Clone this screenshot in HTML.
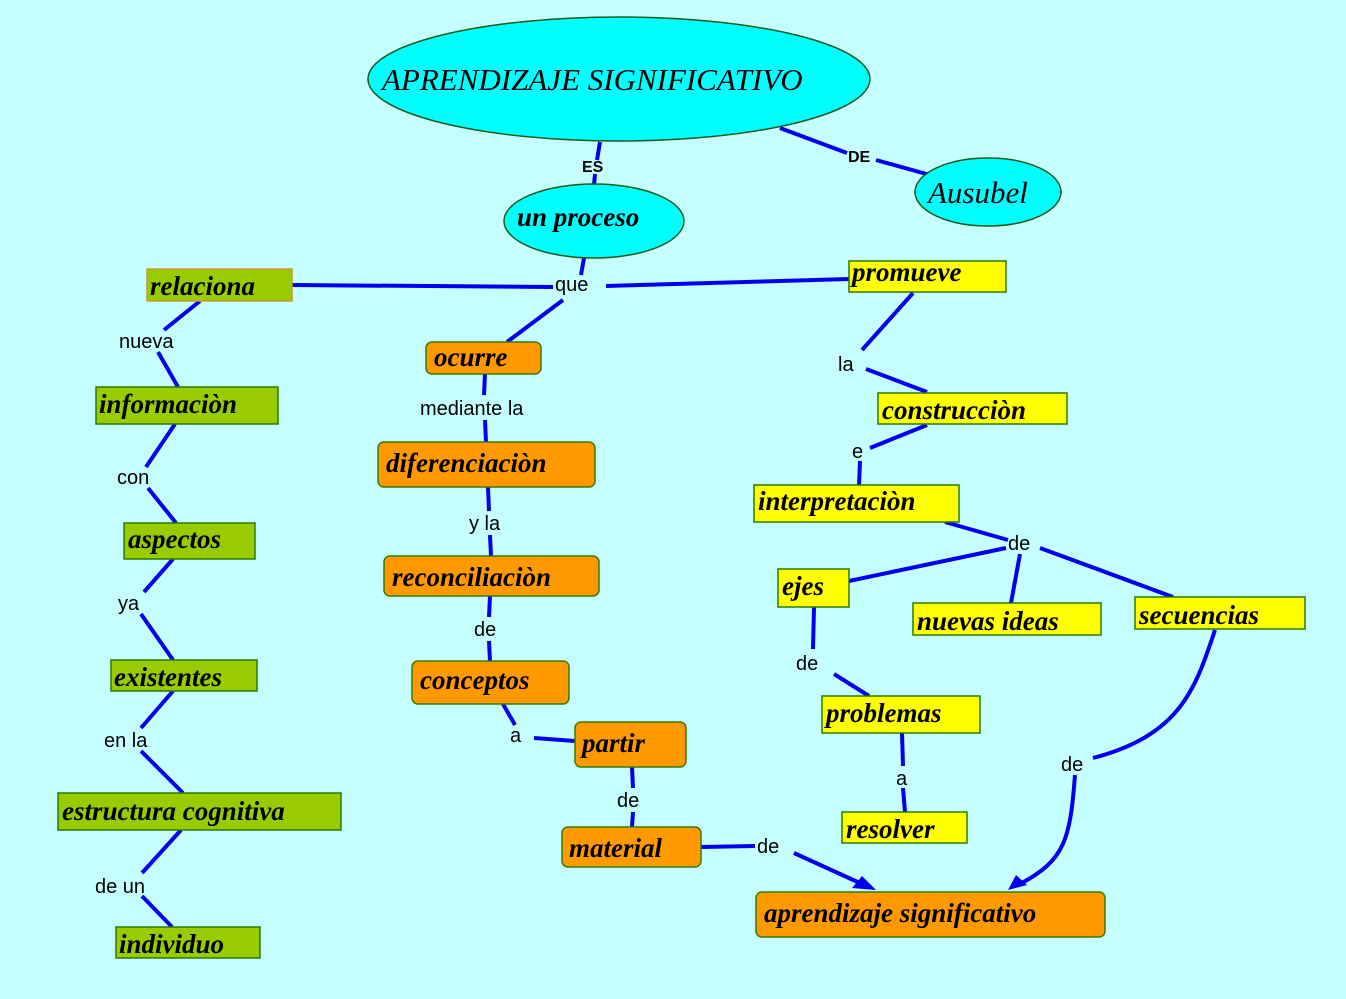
<!DOCTYPE html>
<html><head><meta charset="utf-8"><style>
html,body{margin:0;padding:0;background:#c6ffff;}
svg{display:block}
.n{font-family:"Liberation Serif",serif;font-weight:bold;font-style:italic;font-size:27px;fill:#000}
.l{font-family:"Liberation Sans",sans-serif;font-size:20px;fill:#000}
.ln{stroke:#0000ee;stroke-width:4;fill:none}
.g{fill:#99cc00;stroke:#2a7a00;stroke-width:1.5}
.o{fill:#ff9900;stroke:#3a7a00;stroke-width:1.5}
.y{fill:#ffff00;stroke:#2a7a00;stroke-width:1.5}
.e{fill:#00ffff;stroke:#1a5a1a;stroke-width:1.5}
</style></head><body>
<svg width="1346" height="999" viewBox="0 0 1346 999" xmlns="http://www.w3.org/2000/svg">
<rect width="1346" height="999" fill="#c6ffff"/>
<g class="ln">
<line x1="600" y1="142" x2="597" y2="160"/><line x1="595" y1="174" x2="594" y2="185"/>
<line x1="780" y1="128" x2="847" y2="153"/><line x1="876" y1="160" x2="930" y2="175"/>
<line x1="584" y1="258" x2="581" y2="275"/>
<line x1="292" y1="285" x2="553" y2="287"/><line x1="606" y1="286" x2="849" y2="279"/>
<line x1="563" y1="300" x2="507" y2="342"/>
<line x1="200" y1="301" x2="164" y2="330"/><line x1="158" y1="352" x2="178" y2="387"/>
<line x1="175" y1="424" x2="146" y2="467"/><line x1="148" y1="488" x2="176" y2="523"/>
<line x1="173" y1="559" x2="144" y2="592"/><line x1="141" y1="614" x2="173" y2="660"/>
<line x1="173" y1="691" x2="141" y2="728"/><line x1="141" y1="751" x2="183" y2="793"/>
<line x1="181" y1="830" x2="142" y2="873"/><line x1="142" y1="896" x2="172" y2="927"/>
<line x1="485" y1="374" x2="484" y2="395"/><line x1="485" y1="420" x2="486" y2="442"/>
<line x1="488" y1="487" x2="489" y2="511"/><line x1="490" y1="535" x2="491" y2="556"/>
<line x1="490" y1="596" x2="489" y2="617"/><line x1="489" y1="641" x2="490" y2="661"/>
<line x1="503" y1="704" x2="515" y2="725"/><line x1="534" y1="738" x2="575" y2="741"/>
<line x1="632" y1="767" x2="633" y2="788"/><line x1="633" y1="812" x2="632" y2="827"/>
<line x1="701" y1="847" x2="755" y2="846"/>
<line x1="794" y1="853" x2="862" y2="884"/>
<line x1="913" y1="293" x2="862" y2="350"/><line x1="866" y1="369" x2="927" y2="392"/>
<line x1="927" y1="425" x2="870" y2="448"/><line x1="860" y1="461" x2="859" y2="485"/>
<line x1="945" y1="522" x2="1008" y2="540"/>
<line x1="849" y1="581" x2="1006" y2="548"/>
<line x1="1020" y1="554" x2="1011" y2="603"/>
<line x1="1040" y1="548" x2="1173" y2="597"/>
<line x1="814" y1="607" x2="813" y2="649"/><line x1="834" y1="674" x2="869" y2="696"/>
<line x1="902" y1="733" x2="903" y2="766"/><line x1="903" y1="788" x2="905" y2="812"/>
<path d="M1215 630 C1195 690 1180 735 1093 758"/>
<path d="M1075 775 C1070 840 1065 860 1020 884"/>
</g>
<polygon points="876,890 852,888 862,876" fill="#0000ee"/>
<polygon points="1008,890 1016,875 1027,885" fill="#0000ee"/>
<ellipse class="e" cx="619" cy="79" rx="251" ry="62"/>
<ellipse class="e" cx="594" cy="221" rx="90" ry="37"/>
<ellipse class="e" cx="988" cy="192" rx="73" ry="34"/>
<text class="n" x="382" y="90" style="font-weight:normal;font-size:31px">APRENDIZAJE SIGNIFICATIVO</text>
<text class="n" x="517" y="226">un proceso</text>
<text class="n" x="928" y="203" style="font-weight:normal;font-size:31px">Ausubel</text>
<rect class="g" x="147" y="269" width="145" height="32" style="stroke:#cc9933"/>
<rect class="g" x="96" y="387" width="182" height="37"/>
<rect class="g" x="124" y="523" width="131" height="36"/>
<rect class="g" x="111" y="660" width="146" height="31"/>
<rect class="g" x="58" y="793" width="283" height="37"/>
<rect class="g" x="116" y="927" width="144" height="31"/>
<rect class="o" x="426" y="342" width="115" height="32" rx="6"/>
<rect class="o" x="378" y="442" width="217" height="45" rx="6"/>
<rect class="o" x="384" y="556" width="215" height="40" rx="6"/>
<rect class="o" x="412" y="661" width="157" height="43" rx="6"/>
<rect class="o" x="575" y="722" width="111" height="45" rx="6"/>
<rect class="o" x="562" y="827" width="139" height="40" rx="6"/>
<rect class="o" x="756" y="892" width="349" height="45" rx="6"/>
<rect class="y" x="849" y="261" width="157" height="31"/>
<rect class="y" x="878" y="393" width="189" height="31"/>
<rect class="y" x="754" y="485" width="205" height="37"/>
<rect class="y" x="778" y="569" width="71" height="38"/>
<rect class="y" x="913" y="603" width="188" height="32"/>
<rect class="y" x="1135" y="597" width="170" height="32"/>
<rect class="y" x="822" y="696" width="158" height="37"/>
<rect class="y" x="842" y="812" width="125" height="31"/>
<text class="n" x="150" y="295">relaciona</text>
<text class="n" x="99" y="413">informaciòn</text>
<text class="n" x="128" y="548">aspectos</text>
<text class="n" x="114" y="686">existentes</text>
<text class="n" x="62" y="820">estructura cognitiva</text>
<text class="n" x="119" y="953">individuo</text>
<text class="n" x="434" y="366">ocurre</text>
<text class="n" x="386" y="472">diferenciaciòn</text>
<text class="n" x="392" y="586">reconciliaciòn</text>
<text class="n" x="420" y="689">conceptos</text>
<text class="n" x="582" y="752">partir</text>
<text class="n" x="569" y="857">material</text>
<text class="n" x="764" y="922">aprendizaje significativo</text>
<text class="n" x="852" y="281">promueve</text>
<text class="n" x="882" y="419">construcciòn</text>
<text class="n" x="758" y="510">interpretaciòn</text>
<text class="n" x="782" y="595">ejes</text>
<text class="n" x="917" y="630">nuevas ideas</text>
<text class="n" x="1139" y="624">secuencias</text>
<text class="n" x="826" y="722">problemas</text>
<text class="n" x="846" y="838">resolver</text>
<g class="l">
<text x="582" y="172" style="font-weight:bold;font-size:16px">ES</text>
<text x="848" y="162" style="font-weight:bold;font-size:16px">DE</text>
<text x="555" y="291">que</text>
<text x="119" y="348">nueva</text>
<text x="117" y="484">con</text>
<text x="118" y="610">ya</text>
<text x="104" y="747">en la</text>
<text x="95" y="893">de un</text>
<text x="420" y="415">mediante la</text>
<text x="469" y="530">y la</text>
<text x="474" y="636">de</text>
<text x="510" y="742">a</text>
<text x="617" y="807">de</text>
<text x="757" y="853">de</text>
<text x="838" y="371">la</text>
<text x="852" y="458">e</text>
<text x="1008" y="550">de</text>
<text x="796" y="670">de</text>
<text x="896" y="785">a</text>
<text x="1061" y="771">de</text>
</g>
</svg>
</body></html>
